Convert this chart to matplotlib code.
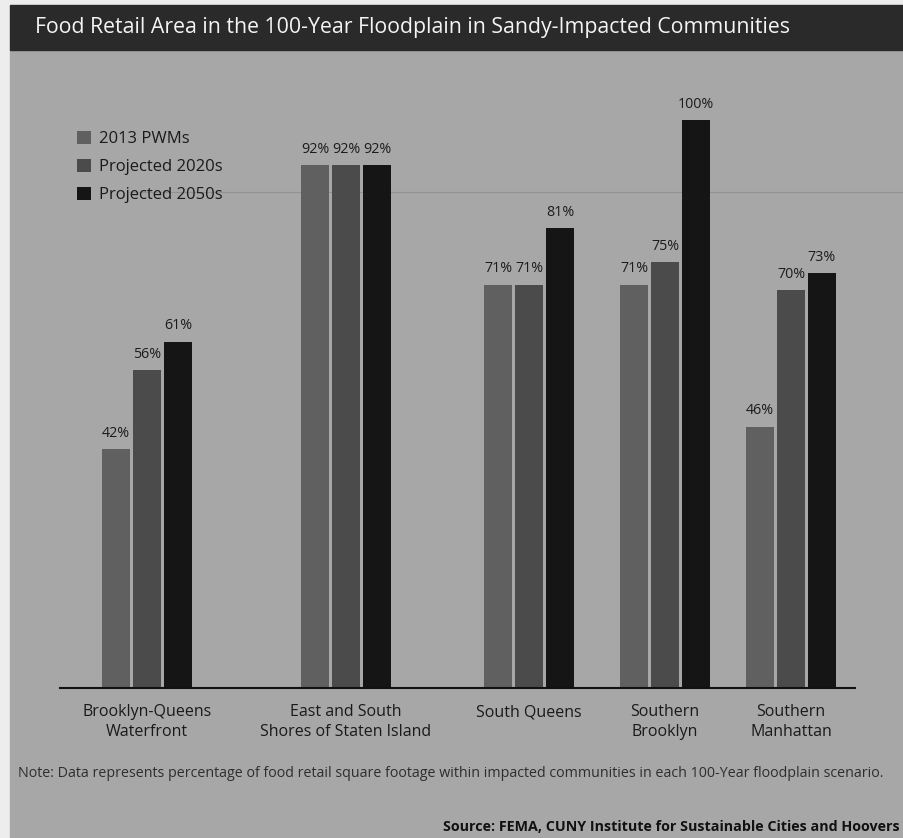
import numpy as np
import matplotlib
matplotlib.use("Agg")
import matplotlib.pyplot as plt
from matplotlib.patches import Rectangle

plt.rcParams['font.family'] = ['Open Sans', 'DejaVu Sans']

# Données
communities = ["Brooklyn-Queens\nWaterfront", "East and South\nShores of Staten Island",
               "South Queens", "Southern\nBrooklyn", "Southern\nManhattan"]
series = ["2013 PWMs", "Projected 2020s", "Projected 2050s"]
pwm_2013 = [42, 92, 71, 71, 46]
proj_2020 = [56, 92, 71, 75, 70]
proj_2050 = [61, 92, 81, 100, 73]

W, H = 904, 838
colors = ['#606060', '#4b4b4b', '#151515']
panel = '#a7a7a7'

fig = plt.figure(figsize=(W / 100, H / 100), dpi=100)
fig.patch.set_facecolor('#ededed')

def fx(px):
    return px / W

def fy(py):
    return 1 - py / H

# fond gris + bandeau titre
fig.patches.append(Rectangle((fx(10), 0), 1 - fx(10), fy(50), transform=fig.transFigure,
                             color=panel, zorder=-10))
fig.patches.append(Rectangle((fx(10), fy(50)), 1 - fx(10), fy(5) - fy(50), transform=fig.transFigure,
                             color='#2a2a2a', zorder=-10))
fig.text(fx(35), fy(28), "Food Retail Area in the 100-Year Floodplain in Sandy-Impacted Communities",
         color='#f4f4f4', fontsize=15.35, ha='left', va='center')

# axe : y=0 au pixel 688, y=100 au pixel 120
ax = fig.add_axes([0, fy(688), 1, fy(120) - fy(688)])
ax.set_xlim(0, W)
ax.set_ylim(0, 100)
ax.axis('off')
ax.patch.set_alpha(0)

# trait du scan
ax.plot([130, 904], [87.3, 87.3], color='#8a8a8a', lw=0.8, alpha=0.7, clip_on=False)

centers = np.array([147, 346, 529, 665, 791])
bw, step = 28, 31
values = [pwm_2013, proj_2020, proj_2050]
for k, (vals, name) in enumerate(zip(values, series)):
    xs = centers + (k - 1) * step
    bars = ax.bar(xs, vals, width=bw, color=colors[k], label=name, zorder=2)
    for x, v in zip(xs, vals):
        ax.annotate(f"{v}%", (x, v), xytext=(0, 6), textcoords='offset points',
                    ha='center', va='bottom', fontsize=10.3, color='#1c1c1c', annotation_clip=False)

ax.plot([60, 855], [0, 0], color='#111111', lw=1.5, clip_on=False, zorder=3)

for c, lab in zip(centers, communities):
    fig.text(fx(c), fy(704), lab, ha='center', va='top', fontsize=11.5, color='#1a1a1a',
             linespacing=1.35)

leg = ax.legend(loc='upper left', bbox_to_anchor=(fx(70), 0.993),
                frameon=False, handlelength=0.85, handleheight=0.85, handletextpad=0.5,
                labelspacing=0.7, fontsize=12, borderaxespad=0)
for t in leg.get_texts():
    t.set_color('#1a1a1a')

fig.text(fx(18), fy(773), "Note: Data represents percentage of food retail square footage within impacted "
         "communities in each 100-Year floodplain scenario.",
         ha='left', va='center', fontsize=10.3, color='#2e2e2e')
fig.text(fx(900), fy(827), "Source: FEMA, CUNY Institute for Sustainable Cities and Hoovers",
         ha='right', va='center', fontsize=10.3, color='#111111', fontweight='bold')

fig.savefig("out.png", dpi=100, facecolor=fig.get_facecolor())
